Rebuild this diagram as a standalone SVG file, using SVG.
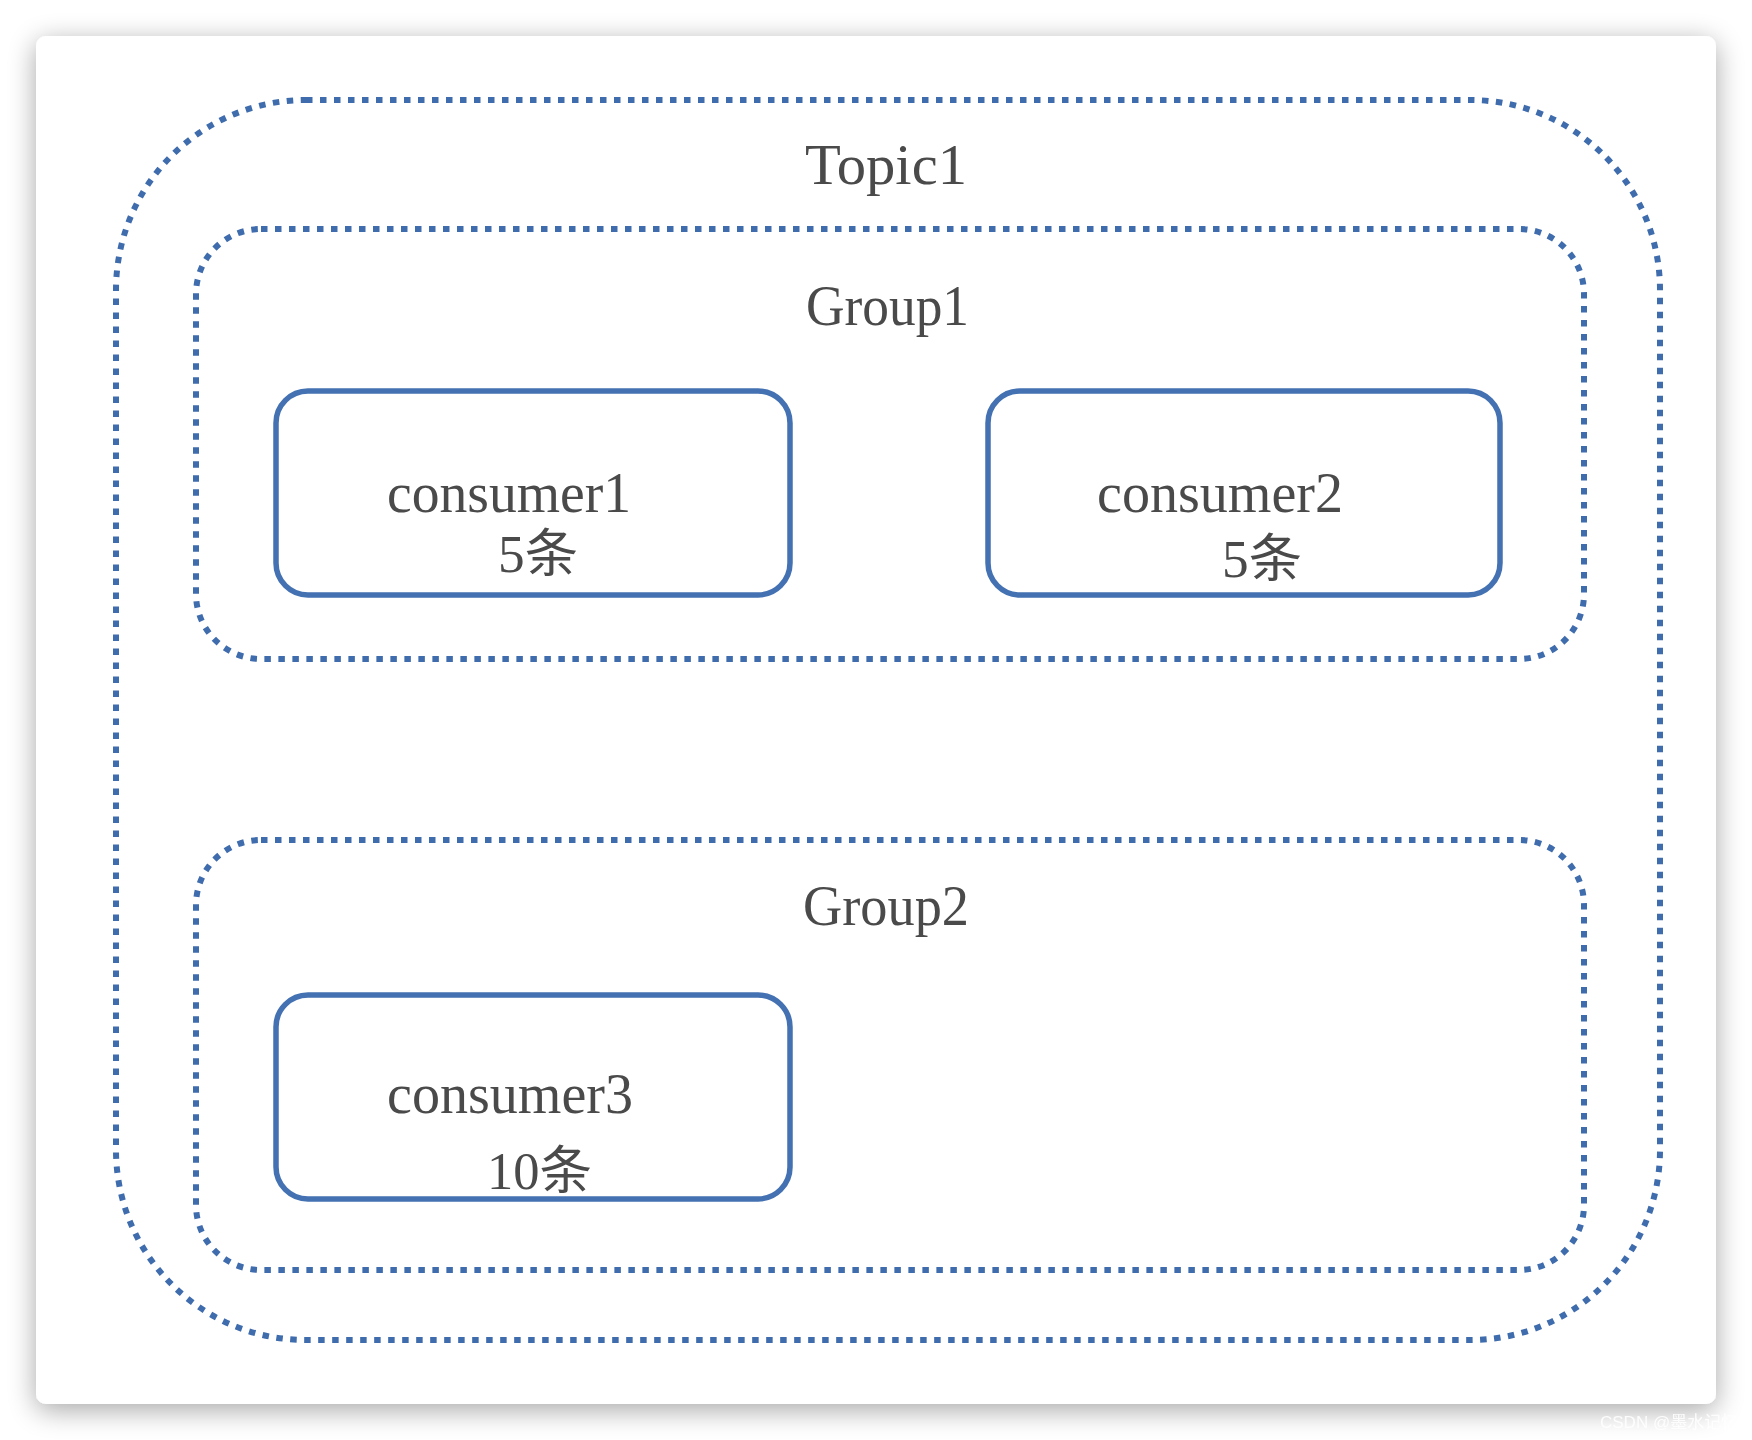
<svg xmlns="http://www.w3.org/2000/svg" width="1752" height="1440" viewBox="0 0 1752 1440">
  <defs>
    <filter id="cardShadow" x="-10%" y="-10%" width="120%" height="120%">
      <feGaussianBlur in="SourceAlpha" stdDeviation="14"/>
      <feOffset dx="0" dy="6" result="blur"/>
      <feComponentTransfer>
        <feFuncA type="linear" slope="0.35"/>
      </feComponentTransfer>
      <feMerge>
        <feMergeNode/>
        <feMergeNode in="SourceGraphic"/>
      </feMerge>
    </filter>
    <style>
      .dotted { fill: none; stroke: #3f6cad; stroke-width: 6; stroke-dasharray: 6.5 7.5; }
      .consumer { fill: #ffffff; stroke: #4371b2; stroke-width: 5.5; }
      .label { font-family: "Liberation Serif", "Noto Sans CJK SC", serif; font-size: 58px; fill: #4a4a4a; }
      .count { font-family: "Liberation Serif", "Noto Sans CJK SC", serif; font-size: 52px; fill: #4a4a4a; }
      .mark { font-family: "Liberation Sans", "Noto Sans CJK SC", sans-serif; font-size: 17px; fill: #ffffff; }
    </style>
  </defs>

  <!-- page and card -->
  <rect x="0" y="0" width="1752" height="1440" fill="#ffffff"/>
  <rect x="36" y="36" width="1680" height="1368" rx="10" fill="#ffffff" filter="url(#cardShadow)"/>

  <!-- Topic1 container -->
  <g id="topic1">
    <rect class="dotted" x="116" y="100" width="1544" height="1240" rx="190"/>
    <text class="label" x="805" y="184" textLength="162" lengthAdjust="spacingAndGlyphs">Topic1</text>
  </g>

  <!-- Group1 container -->
  <g id="group1">
    <rect class="dotted" x="196" y="229" width="1388" height="430" rx="65"/>
    <text class="label" x="806" y="325" textLength="163" lengthAdjust="spacingAndGlyphs">Group1</text>
  </g>

  <!-- Group2 container -->
  <g id="group2">
    <rect class="dotted" x="196" y="840" width="1388" height="430" rx="65"/>
    <text class="label" x="803" y="925" textLength="166" lengthAdjust="spacingAndGlyphs">Group2</text>
  </g>

  <g id="consumer1">
    <rect class="consumer" x="276" y="391" width="514" height="204" rx="32"/>
    <text class="label" x="387" y="512" textLength="244" lengthAdjust="spacingAndGlyphs">consumer1</text>
    <text class="count" x="498" y="572" textLength="80" lengthAdjust="spacingAndGlyphs">5条</text>
  </g>

  <g id="consumer2">
    <rect class="consumer" x="988" y="391" width="512" height="204" rx="32"/>
    <text class="label" x="1097" y="512" textLength="246" lengthAdjust="spacingAndGlyphs">consumer2</text>
    <text class="count" x="1222" y="577" textLength="80" lengthAdjust="spacingAndGlyphs">5条</text>
  </g>

  <g id="consumer3">
    <rect class="consumer" x="276" y="995" width="514" height="204" rx="32"/>
    <text class="label" x="387" y="1113" textLength="246" lengthAdjust="spacingAndGlyphs">consumer3</text>
    <text class="count" x="487" y="1189" textLength="105" lengthAdjust="spacingAndGlyphs">10条</text>
  </g>

  <!-- no connectors between nodes -->
  <g id="connectors"/>

  <text class="mark" x="1600" y="1428" opacity="0.9">CSDN @墨水记忆</text>
</svg>
